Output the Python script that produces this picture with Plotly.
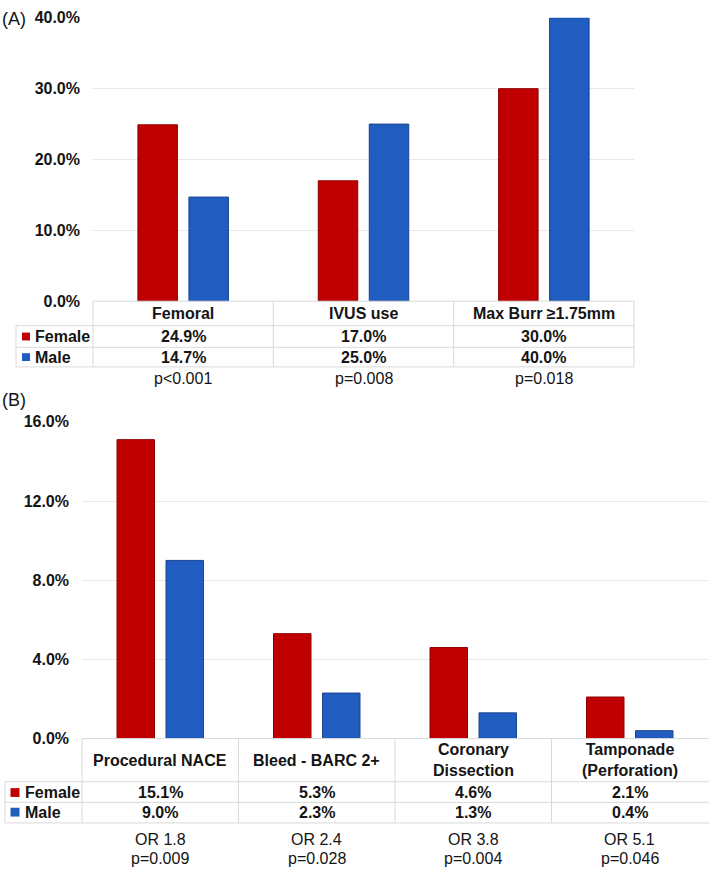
import plotly.graph_objects as go

# ---------------- data ----------------
cats_a = ["Femoral", "IVUS use", "Max Burr ≥1.75mm"]
female_a = [24.9, 17.0, 30.0]
male_a = [14.7, 25.0, 40.0]
pvals_a = ["p<0.001", "p=0.008", "p=0.018"]

cats_b = ["Procedural NACE", "Bleed - BARC 2+", "Coronary<br>Dissection", "Tamponade<br>(Perforation)"]
female_b = [15.1, 5.3, 4.6, 2.1]
male_b = [9.0, 2.3, 1.3, 0.4]
or_b = ["OR 1.8", "OR 2.4", "OR 3.8", "OR 5.1"]
pvals_b = ["p=0.009", "p=0.028", "p=0.004", "p=0.046"]

yticks_a = [0, 10, 20, 30, 40]
yticks_b = [0, 4, 8, 12, 16]

# ---------------- style ----------------
W, H = 709, 879
RED, RED_EDGE = "#C00000", "#8E0000"
BLUE, BLUE_EDGE = "#215CC0", "#1A4690"
GRID = "#E8E8E8"
TBL = "#D9D9D9"
TXT = "#141414"
FONT = "Liberation Sans, Arial, sans-serif"


def px(x):
    return x / W


def py(y):
    return 1 - y / H


fig = go.Figure()

# Panel A bars
wa = 39.5 / 180.3
ca = 25.5 / 180.3
fig.add_bar(x=cats_a, y=female_a, name="Female", xaxis="x", yaxis="y",
            marker=dict(color=RED, line=dict(color=RED_EDGE, width=1)),
            width=wa, offset=-ca - wa / 2)
fig.add_bar(x=cats_a, y=male_a, name="Male", xaxis="x", yaxis="y",
            marker=dict(color=BLUE, line=dict(color=BLUE_EDGE, width=1)),
            width=wa, offset=ca - wa / 2)

# Panel B bars
wb = 37.5 / 156.5
cb = 24.5 / 156.5
fig.add_bar(x=cats_b, y=female_b, name="Female", xaxis="x2", yaxis="y2",
            marker=dict(color=RED, line=dict(color=RED_EDGE, width=1)),
            width=wb, offset=-cb - wb / 2)
fig.add_bar(x=cats_b, y=male_b, name="Male", xaxis="x2", yaxis="y2",
            marker=dict(color=BLUE, line=dict(color=BLUE_EDGE, width=1)),
            width=wb, offset=cb - wb / 2)

tickfont = dict(family=FONT, size=16, color=TXT, weight="bold")

fig.update_layout(
    width=W, height=H, autosize=False,
    margin=dict(l=0, r=0, t=0, b=0),
    paper_bgcolor="white", plot_bgcolor="white",
    showlegend=False, barmode="overlay",
    font=dict(family=FONT, color=TXT),
    xaxis=dict(domain=[px(93), px(634)], showticklabels=False, showgrid=False,
               zeroline=False, showline=False, ticks="", range=[-0.5, 2.5],
               fixedrange=True),
    yaxis=dict(domain=[py(299), py(10)], range=[0, 40], tickmode="array",
               tickvals=yticks_a, ticktext=[f"{v:.1f}%" for v in yticks_a],
               showgrid=True, gridcolor=GRID,
               gridwidth=1, zeroline=False, showline=False, ticks="",
               ticklabelstandoff=12, tickfont=tickfont, fixedrange=True),
    xaxis2=dict(domain=[px(82), px(708)], showticklabels=False, showgrid=False,
                zeroline=False, showline=False, ticks="", range=[-0.5, 3.5],
                anchor="y2", fixedrange=True),
    yaxis2=dict(domain=[py(745), py(422)], range=[0, 16], tickmode="array",
                tickvals=yticks_b, ticktext=[f"{v:.1f}%" for v in yticks_b],
                showgrid=True, gridcolor=GRID,
                gridwidth=1, zeroline=False, showline=False, ticks="",
                ticklabelstandoff=12, tickfont=tickfont, anchor="x2",
                fixedrange=True),
)

shapes = []


def hline(y, x0, x1):
    shapes.append(dict(type="line", xref="paper", yref="paper",
                       x0=px(x0), x1=px(x1), y0=py(y), y1=py(y),
                       line=dict(color=TBL, width=1)))


def vline(x, y0, y1):
    shapes.append(dict(type="line", xref="paper", yref="paper",
                       x0=px(x), x1=px(x), y0=py(y0), y1=py(y1),
                       line=dict(color=TBL, width=1)))


def square(cx, cy, s, color):
    shapes.append(dict(type="rect", xref="paper", yref="paper",
                       x0=px(cx - s / 2), x1=px(cx + s / 2),
                       y0=py(cy + s / 2), y1=py(cy - s / 2),
                       fillcolor=color, line=dict(width=0)))


annotations = []


def text(s, x, y, xref="paper", size=16, bold=True, xanchor="center"):
    annotations.append(dict(
        text=f"<b>{s}</b>" if bold else s,
        x=x if xref != "paper" else px(x), y=py(y),
        xref=xref, yref="paper", showarrow=False,
        xanchor=xanchor, yanchor="middle",
        font=dict(family=FONT, size=size, color=TXT)))


# ---- Table A ----
hline(299, 93, 634)
for y in (324, 346, 366):
    hline(y, 16, 634)
vline(16, 324, 366)
for x in (93, 273.3, 453.7, 634):
    vline(x, 299, 366)
square(26, 335, 8, RED)
square(26, 356, 8, BLUE)
text("Female", 33, 335, xanchor="left")
text("Male", 33, 356, xanchor="left")
for i, c in enumerate(cats_a):
    text(c, c, 311.5, xref="x")
    text(f"{female_a[i]:.1f}%", c, 335, xref="x")
    text(f"{male_a[i]:.1f}%", c, 356, xref="x")
    text(pvals_a[i], c, 378, xref="x", bold=False)

# ---- Table B ----
hline(745, 82, 709)
for y in (789, 810, 831):
    hline(y, 5, 709)
vline(5, 789, 831)
for x in (82, 238.5, 395, 551.5):
    vline(x, 745, 831)
square(15, 800, 9, RED)
square(15, 820, 9, BLUE)
text("Female", 23, 800, xanchor="left")
text("Male", 23, 820, xanchor="left")
for i, c in enumerate(cats_b):
    text(c, c, 767, xref="x2")
    text(f"{female_b[i]:.1f}%", c, 800, xref="x2")
    text(f"{male_b[i]:.1f}%", c, 820, xref="x2")
    text(or_b[i], c, 848, xref="x2", bold=False)
    text(pvals_b[i], c, 867, xref="x2", bold=False)

# panel labels
text("(A)", 0, 11, size=18, bold=False, xanchor="left")
text("(B)", 0, 400, size=18, bold=False, xanchor="left")

fig.update_layout(shapes=shapes, annotations=annotations)

fig.write_html("out.html",
               config={"displayModeBar": False, "staticPlot": True},
               post_script="document.body.style.margin='0px';"
                           "document.body.style.overflow='hidden';")
